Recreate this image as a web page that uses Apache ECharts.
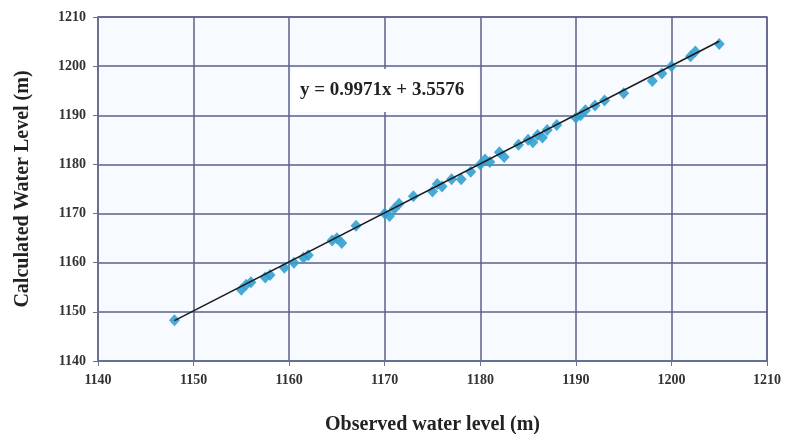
<!DOCTYPE html>
<html>
<head>
<meta charset="utf-8">
<script src="https://cdn.jsdelivr.net/npm/echarts@6/dist/echarts.min.js"></script>
<style>html,body{margin:0;padding:0;background:#fff;}#c{width:785px;height:434px;}</style>
</head>
<body>
<div id="c"></div>
<script>
var observed = [1148,1155,1155.5,1156,1157.5,1158,1159.5,1160.5,1161.5,1162,1164.5,1165,1165.5,1167,1170,1170.5,1171,1171.5,1173,1175,1175.5,1176,1177,1178,1179,1180,1180.5,1181,1182,1182.5,1184,1185,1185.5,1186,1186.5,1187,1188,1190,1190.5,1191,1192,1193,1195,1198,1199,1200,1202,1202.5,1205];
var calculated = [1148.3,1154.5,1155.5,1156,1157,1157.5,1159,1160,1161,1161.5,1164.5,1165,1164,1167.5,1170,1169.5,1171,1172,1173.5,1174.5,1176,1175.5,1177,1177,1178.5,1180,1181,1180.5,1182.5,1181.5,1184,1185,1184.5,1186,1185.5,1187,1188,1189.5,1190,1191,1192,1193,1194.5,1197,1198.5,1200,1202,1203,1204.5];
var trendSlope = 0.9971;
var trendIntercept = 3.5576;
var trendRange = [1148, 1205];
var xTicks = [1140,1150,1160,1170,1180,1190,1200,1210];
var yTicks = [1140,1150,1160,1170,1180,1190,1200,1210];
var equationText = 'y = 0.9971x + 3.5576';

var pts = observed.map(function(x,i){return [x, calculated[i]];});
var trend = trendRange.map(function(x){return [x, trendSlope*x + trendIntercept];});
var serif = '"Liberation Serif", "DejaVu Serif", serif';

var chart = echarts.init(document.getElementById('c'), null, {renderer:'canvas'});
chart.setOption({
  animation:false,
  backgroundColor:'#ffffff',
  grid:{left:98, top:17, width:669, height:344, containLabel:false, outerBoundsMode:'none',
    show:true, backgroundColor:'#f7fbff', borderColor:'#6a7196', borderWidth:1.5},
  xAxis:{
    type:'value', min:xTicks[0], max:xTicks[xTicks.length-1], interval:10,
    name:'Observed water level (m)', nameLocation:'middle', nameGap:54,
    nameTextStyle:{fontFamily:serif, fontWeight:'bold', fontSize:20, color:'#222'},
    axisLine:{show:true, lineStyle:{color:'#6a7196', width:1.5}},
    axisTick:{show:true, length:5, lineStyle:{color:'#6a7196'}},
    axisLabel:{fontFamily:serif, fontWeight:'bold', fontSize:14, color:'#333', margin:12, formatter:function(v){return String(v);}},
    splitLine:{show:true, lineStyle:{color:'#5c6188', width:1.5}}
  },
  yAxis:{
    type:'value', min:yTicks[0], max:yTicks[yTicks.length-1], interval:10,
    name:'Calculated Water Level (m)', nameLocation:'middle', nameGap:65, nameRotate:90,
    nameTextStyle:{fontFamily:serif, fontWeight:'bold', fontSize:20, color:'#222'},
    axisLine:{show:true, lineStyle:{color:'#6a7196', width:1.5}},
    axisTick:{show:true, length:5, lineStyle:{color:'#6a7196'}},
    axisLabel:{fontFamily:serif, fontWeight:'bold', fontSize:14, color:'#333', margin:12, formatter:function(v){return String(v);}},
    splitLine:{show:true, lineStyle:{color:'#5c6188', width:1.5}}
  },
  series:[
    {type:'scatter', data:pts, symbol:'diamond', symbolSize:[11,12],
     itemStyle:{color:'#33a0d2', opacity:0.9}, z:2},
    {type:'line', data:trend, symbol:'none', lineStyle:{color:'#1a1a1a', width:1.5}, z:3}
  ],
  graphic:[{
    type:'text', left:292, top:69, z:10,
    style:{text:equationText, font:'bold 19px ' + serif, fill:'#222',
      backgroundColor:'#ffffff', padding:[12,14,12,8]}
  }]
});
</script>
</body>
</html>
